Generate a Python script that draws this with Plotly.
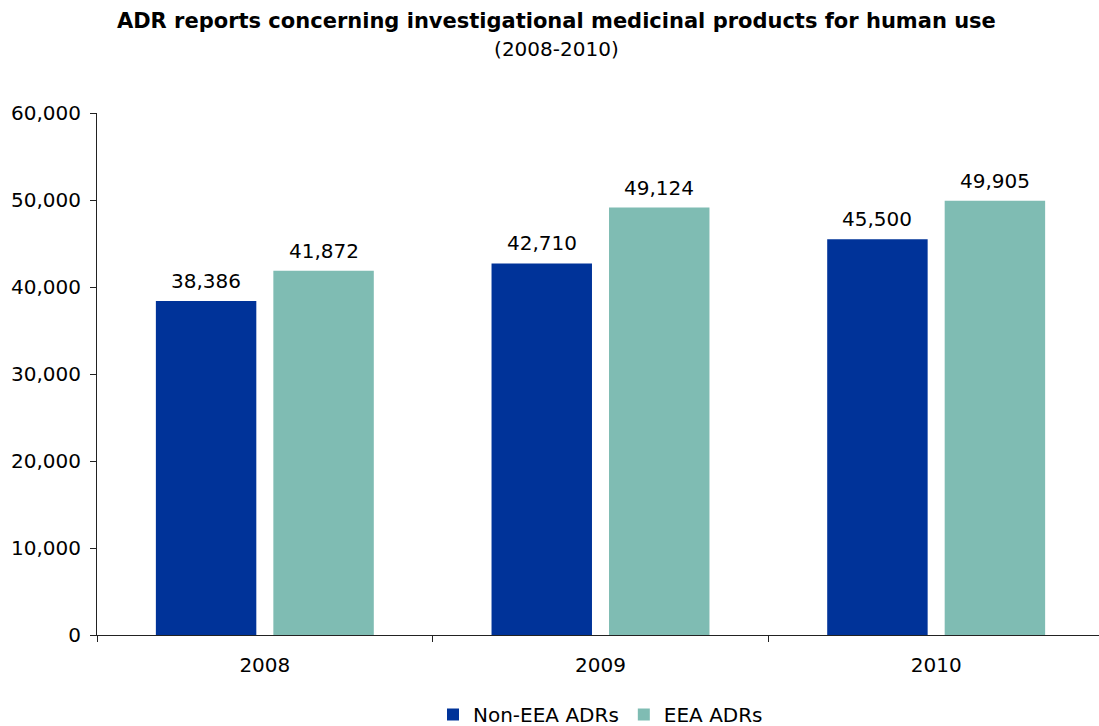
import plotly.graph_objects as go

years = ["2008", "2009", "2010"]
non_eea = [38386, 42710, 45500]
eea = [41872, 49124, 49905]
series_names = ["Non-EEA ADRs", "EEA ADRs"]
colors = ["#003399", "#7FBCB3"]
y_ticks = [0, 10000, 20000, 30000, 40000, 50000, 60000]

FONT = "DejaVu Sans"
BARGAP = 0.30
BARGROUPGAP = 0.145
H = 740

fig = go.Figure()
series = [non_eea, eea]
for name, vals, col in zip(series_names, series, colors):
    fig.add_trace(go.Bar(
        x=years, y=vals, name=name, marker=dict(color=col, line=dict(width=0)),
    ))

# value labels placed above each bar (offset derived from bar group layout)
slot = (1 - BARGAP) / len(series)
for si, vals in enumerate(series):
    off = (si - (len(series) - 1) / 2) * slot
    for ci, v in enumerate(vals):
        fig.add_annotation(x=ci + off, y=v, xref="x", yref="y", text=f"{v:,}",
                           showarrow=False, yanchor="bottom", yshift=6,
                           font=dict(family=FONT, size=20, color="#000"))

fig.update_layout(
    width=1104, height=H,
    paper_bgcolor="white", plot_bgcolor="white",
    margin=dict(l=97, r=0, t=113, b=H - 635),
    barmode="group", bargap=BARGAP, bargroupgap=BARGROUPGAP,
    font=dict(family=FONT, size=20, color="#000"),
    title=dict(
        text="<b>ADR reports concerning investigational medicinal products for human use</b><br><span style='font-size:20px'>(2008-2010)</span>",
        x=0.504, xanchor="center", yref="container", y=1 - 28.3 / H, yanchor="top",
        font=dict(family=FONT, size=21, color="#000"),
    ),
    showlegend=True,
    legend=dict(orientation="h", x=0.5, xanchor="center", yref="container", y=6 / H, yanchor="bottom",
                font=dict(family=FONT, size=20, color="#000"), itemwidth=30, traceorder="normal"),
    xaxis=dict(type="category", range=[-0.5, 2.5], showline=True, linecolor="#222", linewidth=1,
               ticks="outside", ticklen=6, tickcolor="#222", tickson="boundaries",
               showgrid=False, zeroline=False, tickfont=dict(family=FONT, size=20),
               ticklabelstandoff=12),
    yaxis=dict(range=[0, 60000], tickvals=y_ticks, tickformat=",", showline=True,
               linecolor="#222", linewidth=1, ticks="outside", ticklen=6, tickcolor="#222",
               showgrid=False, zeroline=False, tickfont=dict(family=FONT, size=20),
               ticklabelstandoff=5),
)

fig.write_html("out.html", config={"displayModeBar": False},
               post_script="document.body.style.margin='0';document.body.style.overflow='hidden';")
